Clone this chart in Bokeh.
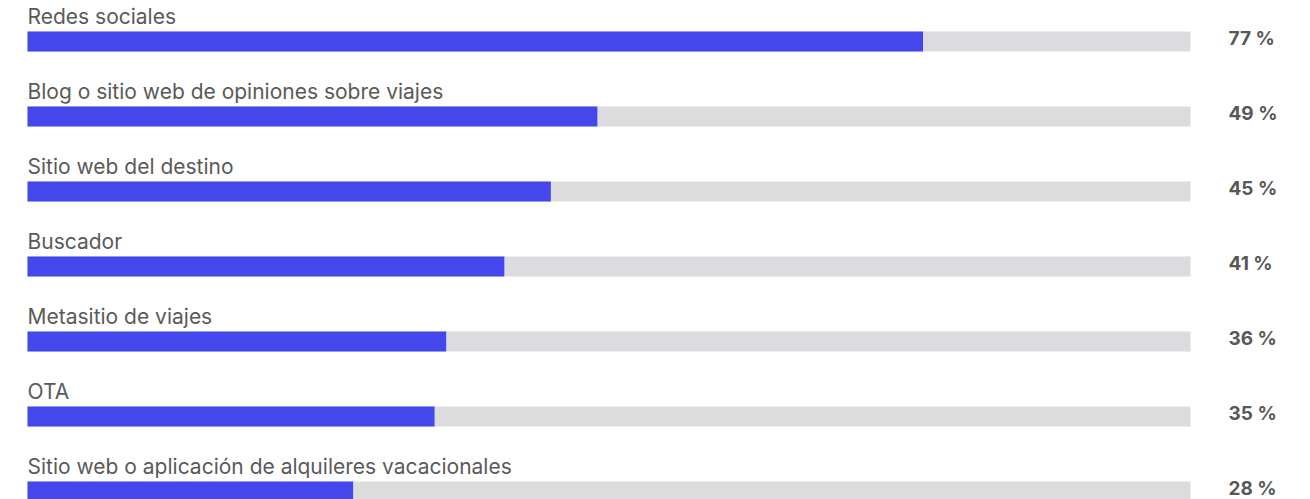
from bokeh.plotting import figure
from bokeh.models import Range1d, ColumnDataSource
from bokeh.core.properties import value
from bokeh.embed import file_html
from bokeh.resources import INLINE

categories = [
    "Redes sociales",
    "Blog o sitio web de opiniones sobre viajes",
    "Sitio web del destino",
    "Buscador",
    "Metasitio de viajes",
    "OTA",
    "Sitio web o aplicación de alquileres vacacionales",
]
values = [77, 49, 45, 41, 36, 35, 28]
value_labels = ["77 %", "49 %", "45 %", "41 %", "36 %", "35 %", "28 %"]

W, H = 1310, 499
LEFT_PX, FULL_PX = 27, 1163
PITCH = 75.0
FIRST_CENTER = 41.0

scale = FULL_PX / 100.0
x0 = -LEFT_PX / scale
x1 = x0 + W / scale
y_top = -FIRST_CENTER / PITCH
y_bot = y_top + H / PITCH

rows = list(range(len(categories)))
src = ColumnDataSource(dict(
    y=rows,
    ylab=[r - 25 / PITCH for r in rows],
    ypct=[r - 3 / PITCH for r in rows],
    v=values, full=[100] * len(rows), zero=[0] * len(rows),
    xpct=[100 + 38 / scale] * len(rows),
    cat=categories, lab=value_labels,
))

p = figure(width=W, height=H, output_backend="svg", toolbar_location=None,
           x_range=Range1d(x0, x1), y_range=Range1d(y_bot, y_top),
           min_border=0, outline_line_color=None)
p.axis.visible = False
p.grid.visible = False

bh = 20 / PITCH
p.hbar(y="y", left="zero", right="full", height=bh, source=src,
       fill_color="#DCDCDE", line_color=None)
p.hbar(y="y", left="zero", right="v", height=bh, source=src,
       fill_color="#4448EC", line_color=None)

p.text(x="zero", y="ylab", text="cat", source=src,
       text_font=value("Inter"), text_font_size="21px", text_color="#5a5a5a",
       text_baseline="alphabetic", text_align="left")
p.text(x="xpct", y="ypct", text="lab", source=src,
       text_font=value("Inter"), text_font_size="19px", text_font_style="bold",
       text_color="#585858", text_baseline="middle", text_align="left")

open("out.html", "w").write(file_html(p, INLINE))
